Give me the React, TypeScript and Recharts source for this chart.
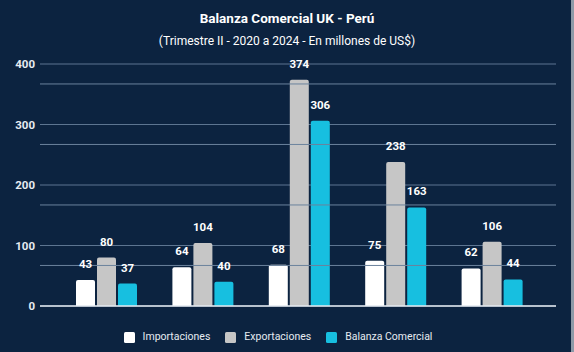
import { Bar, BarChart, CartesianGrid, LabelList, Legend, ReferenceLine, XAxis, YAxis } from "recharts";

const years = ["2020", "2021", "2022", "2023", "2024"];
const importaciones = [43, 64, 68, 75, 62];
const exportaciones = [80, 104, 374, 238, 106];
const balanza = [37, 40, 306, 163, 44];
const yTicks = [0, 100, 200, 300, 400];
const minorLines = [67, 167, 267, 367];

const series = [
  { key: "importaciones", name: "Importaciones", color: "#ffffff" },
  { key: "exportaciones", name: "Exportaciones", color: "#c6c6c6" },
  { key: "balanza", name: "Balanza Comercial", color: "#17bfe0" },
];

const rows = years.map((year, i) => ({
  year,
  importaciones: importaciones[i],
  exportaciones: exportaciones[i],
  balanza: balanza[i],
}));

const BG = "#0c2340";
const FONT = "Roboto, 'Noto Sans', sans-serif";

function LegendContent() {
  return (
    <div style={{ display: "flex", justifyContent: "center", gap: 15, fontFamily: FONT, fontSize: 10.5, color: "#e6ebf1", height: 14, lineHeight: "14px" }}>
      {series.map((s) => (
        <div key={s.key} style={{ display: "flex", alignItems: "center" }}>
          <span style={{ width: 11, height: 11, background: s.color, borderRadius: 1.5, marginRight: 8, display: "inline-block" }} />
          <span>{s.name}</span>
        </div>
      ))}
    </div>
  );
}

export default function App() {
  return (
    <div style={{ position: "fixed", left: 0, top: 0, width: 574, height: 352, background: BG, fontFamily: FONT, overflow: "hidden" }}>
      <div style={{ position: "absolute", top: 10, width: "100%", textAlign: "center", color: "#ffffff", fontWeight: 700, fontSize: 13.5 }}>
        Balanza Comercial UK - Perú
      </div>
      <div style={{ position: "absolute", top: 34, width: "100%", textAlign: "center", color: "#ffffff", fontSize: 12 }}>
        (Trimestre II - 2020 a 2024 - En millones de US$)
      </div>
      <div style={{ position: "absolute", right: 0, top: 0, width: 3, height: 352, background: "#8d9aa8" }} />
      <BarChart
        width={574}
        height={352}
        data={rows}
        margin={{ top: 64, right: 18, bottom: 0, left: 0 }}
        barSize={19}
        barGap={2}
      >
        <CartesianGrid stroke="#5d7591" vertical={false} />
        {minorLines.map((v) => (
          <ReferenceLine key={v} y={v} stroke="#6b829c" />
        ))}
        <XAxis
          dataKey="year"
          tick={false}
          tickLine={false}
          height={32}
          axisLine={{ stroke: "#e4eaf0", strokeWidth: 1.5 }}
          padding={{ left: 18, right: 16 }}
        />
        <YAxis
          domain={[0, 400]}
          ticks={yTicks}
          width={40}
          axisLine={false}
          tickLine={false}
          tickSize={0}
          tickMargin={5}
          tick={{ fill: "#e6ebf1", fontSize: 11.5, fontWeight: 700, fontFamily: FONT }}
        />
        <Legend verticalAlign="bottom" align="center" wrapperStyle={{ bottom: 8 }} content={<LegendContent />} />
        {series.map((s) => (
          <Bar key={s.key} dataKey={s.key} name={s.name} fill={s.color} radius={[2, 2, 0, 0]} isAnimationActive={false}>
            <LabelList dataKey={s.key} position="top" offset={12} fill="#ffffff" fontSize={11.5} fontWeight={700} fontFamily={FONT} />
          </Bar>
        ))}
      </BarChart>
    </div>
  );
}
